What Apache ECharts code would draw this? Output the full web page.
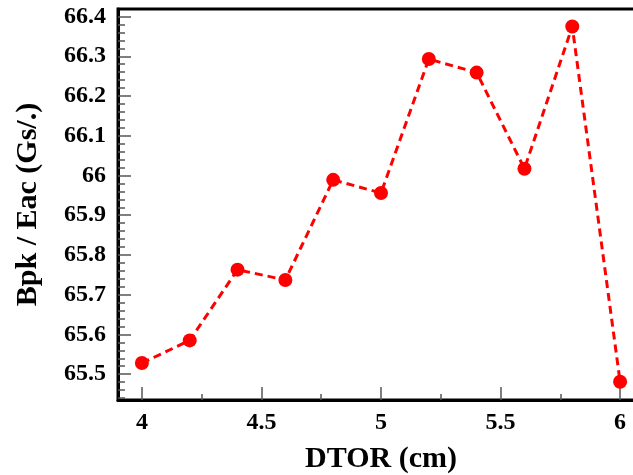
<!DOCTYPE html>
<html>
<head>
<meta charset="utf-8">
<script src="https://cdn.jsdelivr.net/npm/echarts@6/dist/echarts.min.js"></script>
<style>
html,body{margin:0;padding:0;background:#fff;}
#chart{width:633px;height:475px;}
</style>
</head>
<body>
<div id="chart"></div>
<script>
// Data
const xValues = [4.0, 4.2, 4.4, 4.6, 4.8, 5.0, 5.2, 5.4, 5.6, 5.8, 6.0];
const yValues = [65.528, 65.585, 65.763, 65.737, 65.989, 65.956, 66.293, 66.259, 66.017, 66.375, 65.481];
const xMajorTicks = [4, 4.5, 5, 5.5, 6];
const xMinorTicks = [4.25, 4.75, 5.25, 5.75];
const yMajorTicks = [65.5, 65.6, 65.7, 65.8, 65.9, 66, 66.1, 66.2, 66.3, 66.4];
const yMinorTicks = [65.44, 65.46, 65.48, 65.52, 65.54, 65.56, 65.58, 65.62, 65.64, 65.66, 65.68,
  65.72, 65.74, 65.76, 65.78, 65.82, 65.84, 65.86, 65.88, 65.92, 65.94, 65.96, 65.98,
  66.02, 66.04, 66.06, 66.08, 66.12, 66.14, 66.16, 66.18, 66.22, 66.24, 66.26, 66.28,
  66.32, 66.34, 66.36, 66.38];
const xTitle = 'DTOR (cm)';
const yTitle = 'Bpk / Eac (Gs/.)';
const xRange = [3.9, 6.1];
const yRange = [65.435, 66.419];

const font = 'Liberation Serif';
const labelStyle = {fontFamily: font, fontWeight: 'bold', fontSize: 24, color: '#000'};

const chart = echarts.init(document.getElementById('chart'));
chart.setOption({
  animation: false,
  grid: {left: 118, top: 9, width: 526, height: 391, outerBoundsMode: 'none', containLabel: false,
         show: true, borderColor: '#000', borderWidth: 3, backgroundColor: 'transparent'},
  xAxis: [
    {
      type: 'value', min: xRange[0], max: xRange[1], position: 'bottom',
      name: xTitle, nameLocation: 'middle', nameGap: 44,
      nameTextStyle: {fontFamily: font, fontWeight: 'bold', fontSize: 30, color: '#000'},
      axisLine: {show: true, onZero: false, lineStyle: {color: '#000', width: 3}},
      axisTick: {show: true, inside: true, length: 13, customValues: xMajorTicks, lineStyle: {color: '#555', width: 1.5}},
      axisLabel: Object.assign({margin: 11, customValues: xMajorTicks, formatter: v => String(v)}, labelStyle),
      splitLine: {show: false}
    },
    {
      type: 'value', min: xRange[0], max: xRange[1], position: 'bottom', gridIndex: 0,
      axisLine: {show: false, onZero: false},
      axisTick: {show: true, inside: true, length: 6, customValues: xMinorTicks, lineStyle: {color: '#555', width: 1.5}},
      axisLabel: {show: false},
      splitLine: {show: false}
    }
  ],
  yAxis: [
    {
      type: 'value', min: yRange[0], max: yRange[1], position: 'left',
      name: yTitle, nameLocation: 'middle', nameGap: 75, nameRotate: 90,
      nameTextStyle: {fontFamily: font, fontWeight: 'bold', fontSize: 30, color: '#000'},
      axisLine: {show: true, onZero: false, lineStyle: {color: '#000', width: 3}},
      axisTick: {show: true, inside: true, length: 13, customValues: yMajorTicks, lineStyle: {color: '#555', width: 1.5}},
      axisLabel: Object.assign({margin: 12, customValues: yMajorTicks, formatter: v => String(Math.round(v*10)/10)}, labelStyle),
      splitLine: {show: false}
    },
    {
      type: 'value', min: yRange[0], max: yRange[1], position: 'left',
      axisLine: {show: false, onZero: false},
      axisTick: {show: true, inside: true, length: 7, customValues: yMinorTicks, lineStyle: {color: '#555', width: 1.5}},
      axisLabel: {show: false},
      splitLine: {show: false}
    }
  ],
  series: [{
    type: 'line',
    data: xValues.map((x, i) => [x, yValues[i]]),
    xAxisIndex: 0, yAxisIndex: 0,
    symbol: 'circle', symbolSize: 14,
    itemStyle: {color: '#ff0000'},
    lineStyle: {color: '#ff0000', width: 3, type: [8, 5]},
    clip: false
  }]
});
</script>
</body>
</html>
